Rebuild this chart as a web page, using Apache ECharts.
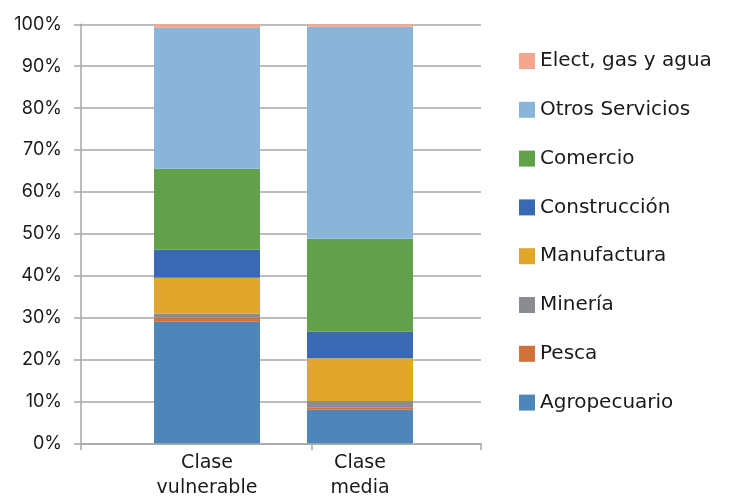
<!DOCTYPE html>
<html>
<head>
<meta charset="utf-8">
<script src="https://cdn.jsdelivr.net/npm/echarts@6/dist/echarts.min.js"></script>
<style>
  html, body { margin: 0; padding: 0; background: #fff; }
  #chart { width: 729px; height: 497px; }
</style>
</head>
<body>
<div id="chart"></div>
<script>
// categories and stacked shares (%), bottom to top
var categories = ['Clase\nvulnerable', 'Clase\nmedia'];
var sectors = ['Agropecuario', 'Pesca', 'Minería', 'Manufactura', 'Construcción', 'Comercio', 'Otros Servicios', 'Elect, gas y agua'];
var agropecuario = [29.0, 8.0];
var pesca = [1.0, 0.6];
var mineria = [1.0, 1.5];
var manufactura = [8.5, 10.2];
var construccion = [6.7, 6.3];
var comercio = [19.3, 22.2];
var otrosServicios = [33.7, 50.6];
var electGasAgua = [0.8, 0.6];
var yTicks = [0, 10, 20, 30, 40, 50, 60, 70, 80, 90, 100];

var values = [agropecuario, pesca, mineria, manufactura, construccion, comercio, otrosServicios, electGasAgua];
var colors = ['#4f86b9', '#d1703a', '#8a8c8f', '#e0a72a', '#3a69b3', '#62a04b', '#8bb4da', '#f4a58b'];

var myChart = echarts.init(document.getElementById('chart'));
var font = 'Inter, "Noto Sans", sans-serif';
var wideFont = '"DejaVu Sans", Inter, sans-serif';

var series = sectors.map(function (name, i) {
  return {
    name: name,
    type: 'bar',
    stack: 'total',
    xAxisIndex: 1,
    yAxisIndex: 1,
    barWidth: 106,
    data: values[i],
    itemStyle: { color: colors[i] }
  };
});

var option = {
  animation: false,
  textStyle: { fontFamily: font },
  grid: [
    { left: 81, right: 248, top: 24.3, bottom: 53.7, outerBoundsMode: 'none', containLabel: false },
    { left: 130.5, width: 306, top: 24.3, bottom: 53.7, outerBoundsMode: 'none', containLabel: false }
  ],
  legend: {
    data: sectors.slice().reverse(),
    orient: 'vertical',
    left: 514,
    top: 46,
    itemWidth: 16,
    itemHeight: 16,
    itemGap: 28.8,
    icon: 'rect',
    textStyle: { fontFamily: wideFont, fontSize: 20, color: '#1a1a1a', lineHeight: 20, padding: [0, 0, 0, 0] }
  },
  xAxis: [
    {
      type: 'value',
      gridIndex: 0,
      min: 0,
      max: 400,
      axisLine: { show: true, lineStyle: { color: '#a6a6a6', width: 1.5 } },
      axisTick: { show: true, length: 7, customValues: [0, 231, 400], lineStyle: { color: '#a6a6a6', width: 1.5 } },
      axisLabel: { show: false },
      splitLine: { show: false }
    },
    {
      type: 'category',
      gridIndex: 1,
      data: categories,
      axisLine: { show: false },
      axisTick: { show: false },
      axisLabel: { fontFamily: wideFont, fontSize: 19, color: '#1a1a1a', lineHeight: 25, margin: 7 }
    }
  ],
  yAxis: [
    {
      type: 'value',
      gridIndex: 0,
      min: yTicks[0],
      max: yTicks[yTicks.length - 1],
      interval: 10,
      axisLine: { show: true, lineStyle: { color: '#a6a6a6', width: 1.5 } },
      axisTick: { show: true, length: 7, lineStyle: { color: '#a6a6a6', width: 1.5 } },
      axisLabel: { formatter: '{value}%', fontFamily: font, fontSize: 18, color: '#1a1a1a', margin: 19 },
      splitLine: { lineStyle: { color: '#a6a6a6', width: 1.5 } }
    },
    {
      type: 'value',
      gridIndex: 1,
      min: 0,
      max: 100,
      show: false
    }
  ],
  series: series
};

option && myChart.setOption(option);
</script>
</body>
</html>
